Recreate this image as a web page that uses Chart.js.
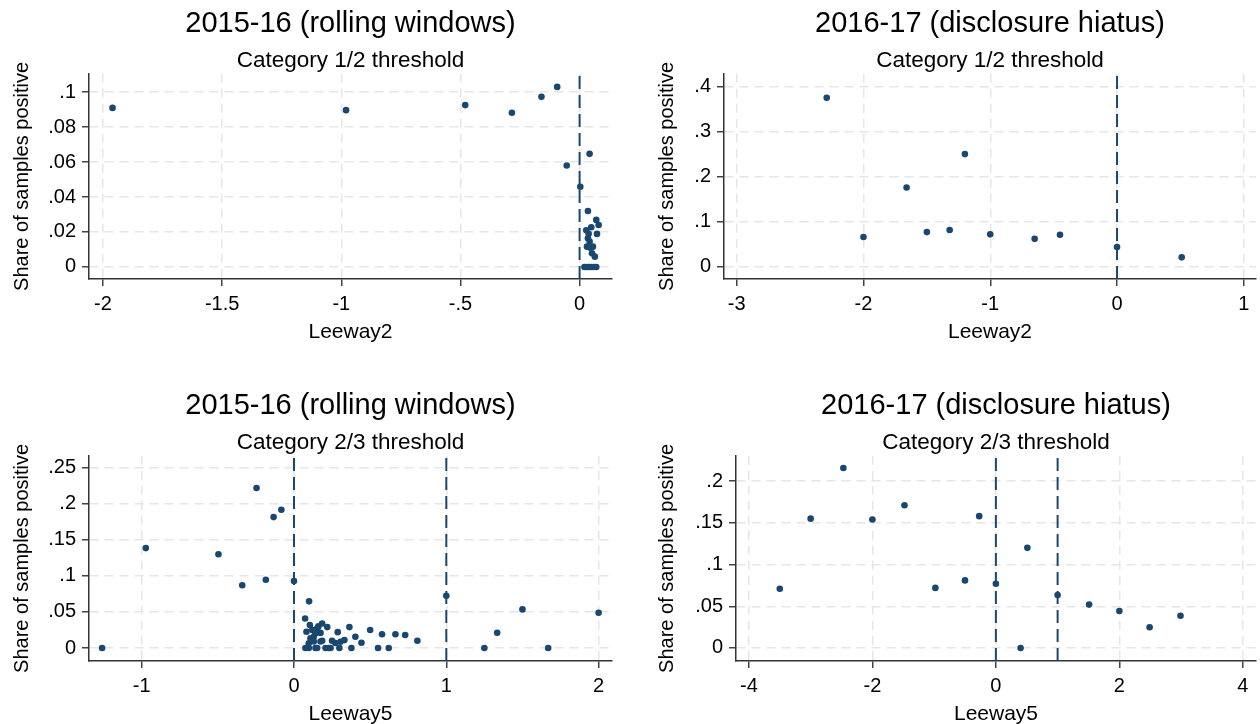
<!DOCTYPE html>
<html>
<head>
<meta charset="utf-8">
<script src="https://cdn.jsdelivr.net/npm/chart.js@4.4.1/dist/chart.umd.min.js"></script>
<style>
  html, body { margin: 0; padding: 0; background: #fff; }
  body { width: 1260px; height: 724px; overflow: hidden; position: relative; }
  canvas { position: absolute; }
</style>
</head>
<body>
<canvas id="tl"></canvas>
<canvas id="tr"></canvas>
<canvas id="bl"></canvas>
<canvas id="br"></canvas>
<script>
// 2015-16 rolling windows, category 1/2 threshold
const tlLeeway = [-1.96, -0.98, -0.48, -0.284, -0.16, -0.094, -0.054, 0.003, 0.042, 0.035,
  0.07, 0.08, 0.049, 0.028, 0.073, 0.035, 0.042, 0.038, 0.031, 0.056, 0.045, 0.052, 0.064,
  0.02, 0.03, 0.04, 0.05, 0.06, 0.07];
const tlShare = [0.091, 0.0897, 0.0926, 0.0882, 0.0973, 0.103, 0.058, 0.0459, 0.0647, 0.032,
  0.0269, 0.024, 0.0227, 0.021, 0.0189, 0.0164, 0.0145, 0.019, 0.0116, 0.0116, 0.011, 0.0078, 0.0059,
  0, 0, 0, 0, 0, 0];

// 2016-17 disclosure hiatus, category 1/2 threshold
const trLeeway = [-2.29, -2, -1.66, -1.5, -1.32, -1.2, -1, -0.65, -0.45, 0, 0.51];
const trShare = [0.375, 0.066, 0.176, 0.077, 0.0815, 0.25, 0.072, 0.062, 0.071, 0.044, 0.021];

// 2015-16 rolling windows, category 2/3 threshold
const blLeeway = [-1.26, -0.973, -0.496, -0.34, -0.246, -0.185, -0.134, -0.083, 0, 0.099, 0.073,
  0.104, 0.185, 0.218, 0.152, 0.082, 0.174, 0.287, 0.364, 0.5, 0.578, 0.666, 0.403, 0.443,
  0.25, 0.272, 0.305, 0.331, 0.097, 0.13, 0.174, 0.108, 0.13, 0.185, 0.12, 0.14, 0.16,
  0.075, 0.097, 0.141, 0.152, 0.207, 0.228, 0.24, 0.298, 0.377, 0.552, 0.622,
  0.73, 0.81, 1, 1.5, 2, 1.25, 1.334, 1.669];
const blShare = [0, 0.1386, 0.13, 0.087, 0.222, 0.0947, 0.1816, 0.1917, 0.093, 0.0647, 0.041,
  0.032, 0.034, 0.029, 0.027, 0.0226, 0.021, 0.022, 0.029, 0.025, 0.019, 0.019, 0.0157, 0.0074,
  0.01, 0.007, 0.0087, 0.011, 0.0065, 0.009, 0.009, 0.0134, 0.0157, 0.01, 0.025, 0.02, 0.03,
  0, 0, 0, 0, 0, 0, 0, 0, 0, 0, 0,
  0.018, 0.01, 0.0725, 0.0536, 0.049, 0, 0.0212, 0];

// 2016-17 disclosure hiatus, category 2/3 threshold
const brLeeway = [-3.5, -3, -2.47, -2, -1.48, -0.98, -0.5, -0.27, 0, 0.4, 0.51, 1, 1.51, 2, 2.49, 2.99];
const brShare = [0.071, 0.155, 0.2156, 0.154, 0.171, 0.072, 0.081, 0.158, 0.077, 0, 0.12,
  0.0635, 0.052, 0.0443, 0.0248, 0.0387];

// thresholds (vertical dashed lines)
const refCat12 = [0];
const refCat23 = [0, 1];

// tick values
const tlXTicks = [-2, -1.5, -1, -0.5, 0];
const tlYTicks = [0, 0.02, 0.04, 0.06, 0.08, 0.1];
const trXTicks = [-3, -2, -1, 0, 1];
const trYTicks = [0, 0.1, 0.2, 0.3, 0.4];
const blXTicks = [-1, 0, 1, 2];
const blYTicks = [0, 0.05, 0.1, 0.15, 0.2, 0.25];
const brXTicks = [-4, -2, 0, 2, 4];
const brYTicks = [0, 0.05, 0.1, 0.15, 0.2];

const NAVY = '#1a476f';
const FONT = '"Liberation Sans", Arial, Helvetica, sans-serif';

// Stata style labels: .05 rather than 0.05
function stataLabel(v) {
  return String(+v.toFixed(4)).replace(/^(-?)0\./, '$1.');
}

function makePanel(id, p) {
  const cv = document.getElementById(id);
  cv.width = p.w;
  cv.height = 350;
  cv.style.left = p.left + 'px';
  cv.style.top = p.top + 'px';

  const points = p.xs.map((x, i) => ({ x: x, y: p.ys[i] }));
  const datasets = [{
    type: 'scatter',
    data: points,
    backgroundColor: NAVY,
    borderWidth: 0,
    pointRadius: 3.3,
    order: 0
  }];
  p.refs.forEach(r => {
    datasets.push({
      type: 'line',
      data: [{ x: r, y: p.yMin }, { x: r, y: p.yMax }],
      borderColor: NAVY,
      borderWidth: 2,
      borderDash: [13, 6],
      pointRadius: 0,
      fill: false,
      order: 1
    });
  });

  const gridOpts = {
    color: '#e6e6e6',
    lineWidth: 1.5,
    tickLength: 7,
    tickColor: '#444',
    tickWidth: 1.5,
    tickBorderDash: []
  };
  const borderOpts = { color: '#333', width: 1.5, dash: [9, 6] };

  new Chart(cv, {
    data: { datasets: datasets },
    options: {
      responsive: false,
      animation: false,
      devicePixelRatio: 1,
      layout: { padding: { left: 0, right: p.padRight, top: 0, bottom: 0 } },
      plugins: {
        legend: { display: false },
        tooltip: { enabled: false },
        title: {
          display: true,
          text: p.title,
          fullSize: false,
          color: '#000',
          font: { family: FONT, size: 29, weight: 'normal' },
          padding: { top: 7, bottom: 5 }
        },
        subtitle: {
          display: true,
          text: p.subtitle,
          fullSize: false,
          color: '#000',
          font: { family: FONT, size: 22.5, weight: 'normal' },
          padding: { top: 0, bottom: 0 }
        }
      },
      scales: {
        x: {
          type: 'linear',
          min: p.xMin,
          max: p.xMax,
          afterFit: s => { s.height = 71; },
          afterBuildTicks: s => { s.ticks = p.xTicks.map(v => ({ value: v })); },
          grid: gridOpts,
          border: borderOpts,
          ticks: {
            color: '#000',
            padding: 6,
            maxRotation: 0,
            font: { family: FONT, size: 20 },
            callback: v => stataLabel(v)
          },
          title: {
            display: true,
            text: p.xTitle,
            color: '#000',
            font: { family: FONT, size: 21 },
            padding: { top: 0, bottom: 5 }
          }
        },
        y: {
          type: 'linear',
          min: p.yMin,
          max: p.yMax,
          afterFit: s => { s.width = p.yWidth; },
          afterBuildTicks: s => { s.ticks = p.yTicks.map(v => ({ value: v })); },
          grid: gridOpts,
          border: borderOpts,
          ticks: {
            color: '#000',
            padding: 6,
            font: { family: FONT, size: 20 },
            callback: v => stataLabel(v)
          },
          title: {
            display: true,
            text: 'Share of samples positive',
            color: '#000',
            font: { family: FONT, size: 20 },
            padding: { top: 10, bottom: 0 }
          }
        }
      }
    }
  });
}

makePanel('tl', {
  left: 0, top: 0, w: 630, padRight: 18, yWidth: 89,
  title: '2015-16 (rolling windows)', subtitle: 'Category 1/2 threshold', xTitle: 'Leeway2',
  xs: tlLeeway, ys: tlShare, refs: refCat12,
  xMin: -2.0588, xMax: 0.136, yMin: -0.0069, yMax: 0.1105,
  xTicks: tlXTicks, yTicks: tlYTicks
});
makePanel('tr', {
  left: 645, top: 0, w: 615, padRight: 2, yWidth: 79,
  title: '2016-17 (disclosure hiatus)', subtitle: 'Category 1/2 threshold', xTitle: 'Leeway2',
  xs: trLeeway, ys: trShare, refs: refCat12,
  xMin: -3.1, xMax: 1.096, yMin: -0.027, yMax: 0.428,
  xTicks: trXTicks, yTicks: trYTicks
});
makePanel('bl', {
  left: 0, top: 382, w: 630, padRight: 18, yWidth: 89,
  title: '2015-16 (rolling windows)', subtitle: 'Category 2/3 threshold', xTitle: 'Leeway5',
  xs: blLeeway, ys: blShare, refs: refCat23,
  xMin: -1.346, xMax: 2.088, yMin: -0.018, yMax: 0.2666,
  xTicks: blXTicks, yTicks: blYTicks
});
makePanel('br', {
  left: 645, top: 382, w: 615, padRight: 1, yWidth: 91,
  title: '2016-17 (disclosure hiatus)', subtitle: 'Category 2/3 threshold', xTitle: 'Leeway5',
  xs: brLeeway, ys: brShare, refs: refCat23,
  xMin: -4.209, xMax: 4.213, yMin: -0.0156, yMax: 0.2303,
  xTicks: brXTicks, yTicks: brYTicks
});
</script>
</body>
</html>
